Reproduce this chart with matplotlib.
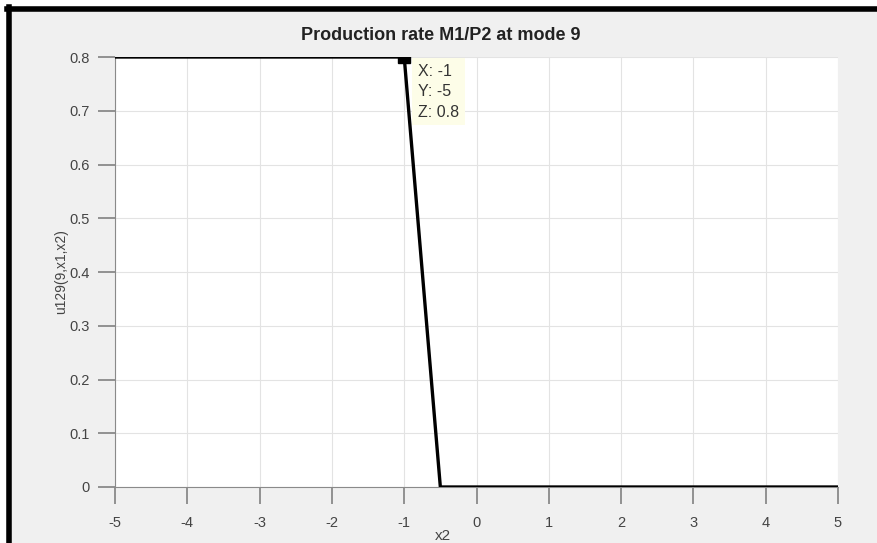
import matplotlib.pyplot as plt
from matplotlib.patches import Rectangle

plt.rcParams['font.family'] = ['Liberation Sans', 'DejaVu Sans']

# 数据
x2 = [-5, -1, -0.5, 5]
u = [0.8, 0.8, 0.0, 0.0]
tip_x, tip_y, tip_z = -1, -5, 0.8
xticks = [-5, -4, -3, -2, -1, 0, 1, 2, 3, 4, 5]
yticks = [0, 0.1, 0.2, 0.3, 0.4, 0.5, 0.6, 0.7, 0.8]

fig = plt.figure(figsize=(8.77, 5.43), dpi=100, facecolor='white')

# 灰色背景和黑色边框
fig.patches.append(Rectangle((8 / 877, 0), 1, 1 - 8 / 543, transform=fig.transFigure,
                             facecolor='#f0f0f0', edgecolor='none', zorder=-2))
fig.add_artist(plt.Line2D([9 / 877, 9 / 877], [0, 1 - 7 / 543], transform=fig.transFigure,
                          color='black', lw=4))
fig.add_artist(plt.Line2D([7 / 877, 1], [1 - 9 / 543, 1 - 9 / 543], transform=fig.transFigure,
                          color='black', lw=4))

ax = fig.add_axes([115 / 877, 1 - 487 / 543, (838 - 115) / 877, (487 - 57) / 543])
ax.set_facecolor('white')

ax.plot(x2, u, color='black', lw=2.4, zorder=3)
ax.plot([tip_x], [tip_z], marker='s', color='black', ms=8, zorder=4)

ax.set_xlim(-5, 5)
ax.set_ylim(0, 0.8)
ax.set_xticks(xticks)
ax.set_yticks(yticks)
ax.set_xticklabels([str(t) for t in xticks])
ax.set_yticklabels(['0'] + ['%.1f' % t for t in yticks[1:]])
ax.grid(True, color='#e3e3e3', lw=0.8)
ax.set_axisbelow(True)

for s in ['top', 'right']:
    ax.spines[s].set_visible(False)
for s in ['left', 'bottom']:
    ax.spines[s].set_color('#8a8a8a')
ax.tick_params(axis='both', colors='#8a8a8a', labelcolor='#444444', labelsize=10.5,
               length=12, width=1.3, direction='out')
ax.tick_params(axis='x', pad=9)
ax.tick_params(axis='y', pad=6)

ax.set_xlabel('x2', fontsize=11, color='#444444', labelpad=-1, x=0.454)
ax.set_ylabel('u129(9,x1,x2)', fontsize=10, color='#444444', labelpad=1)
ax.set_title('Production rate M1/P2 at mode 9', fontsize=13, fontweight='bold',
             color='#222222', pad=12, x=0.45)

ax.annotate('X: -1\nY: -5\nZ: 0.8', xy=(tip_x, tip_z), xytext=(10, -5),
            textcoords='offset points', ha='left', va='top', fontsize=11.5,
            color='#333333', linespacing=1.45,
            bbox=dict(boxstyle='square,pad=0.35', facecolor='#fdfde8', edgecolor='none'))

fig.savefig('out.png', dpi=100)
